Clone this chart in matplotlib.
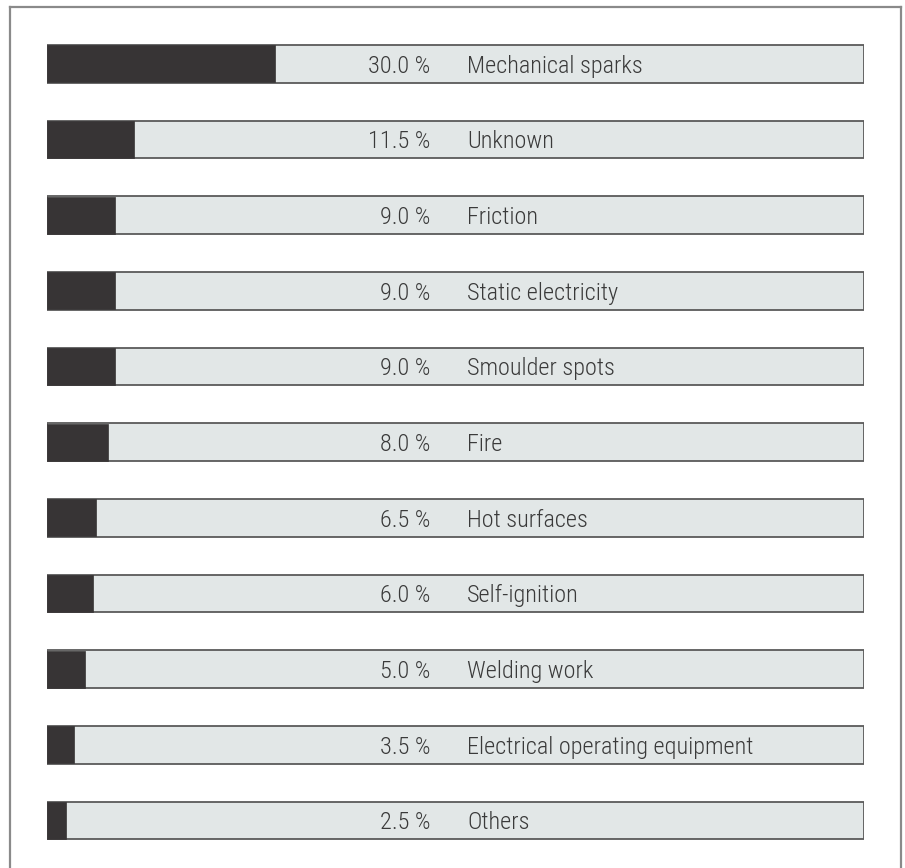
import matplotlib.pyplot as plt
from matplotlib import transforms
from matplotlib.lines import Line2D

# data
causes = ['Mechanical sparks', 'Unknown', 'Friction', 'Static electricity',
          'Smoulder spots', 'Fire', 'Hot surfaces', 'Self-ignition',
          'Welding work', 'Electrical operating equipment', 'Others']
shares = [30.0, 11.5, 9.0, 9.0, 9.0, 8.0, 6.5, 6.0, 5.0, 3.5, 2.5]

x_max = 107.5
dark = '#373435'
light = '#e2e7e7'
txt = '#3a3a3a'

plt.rcParams['font.family'] = ['Roboto Condensed', 'Fira Sans Condensed',
                               'Archivo Narrow', 'DejaVu Sans']

W, H = 905, 868
fig = plt.figure(figsize=(W / 100, H / 100), dpi=100)
fig.patch.set_facecolor('white')

# outer frame
for xs, ys in [([10, 10], [-5, H - 7]), ([10, 901], [H - 7, H - 7]), ([901, 901], [-5, H - 7])]:
    fig.add_artist(Line2D([x / W for x in xs], [y / H for y in ys],
                          transform=fig.transFigure, color='#8a8a8a', lw=1.6))

ax = fig.add_axes([47 / W, (H - 858.3) / H, 817 / W, 832.2 / H])
ys = list(range(len(causes)))

ax.barh(ys, [x_max] * len(ys), height=0.5, color=light, edgecolor='#5a5a5a', linewidth=1.3)
ax.barh(ys, shares, height=0.49, color=dark, edgecolor=dark, linewidth=0.5)

tr = transforms.blended_transform_factory(ax.transAxes, ax.transData)
for y, c, s in zip(ys, causes, shares):
    ax.text(0.469, y + 0.03, f'{s:.1f} %', transform=tr, ha='right', va='center',
            fontsize=17.5, color=txt, fontweight='light')
    ax.text(0.514, y + 0.03, c, transform=tr, ha='left', va='center',
            fontsize=17.5, color=txt, fontweight='light')

ax.set_xlim(0, x_max)
ax.set_ylim(len(causes) - 0.5, -0.5)
ax.axis('off')

plt.savefig('out.png', dpi=100, facecolor='white')
